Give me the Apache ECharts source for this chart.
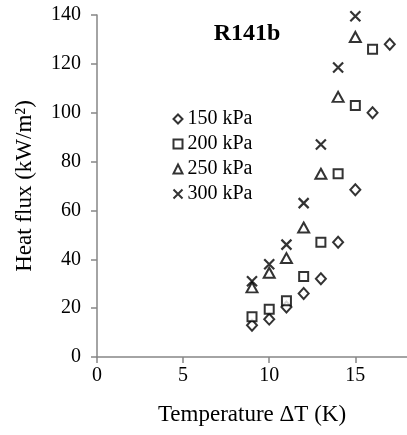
<!DOCTYPE html>
<html>
<head>
<meta charset="utf-8">
<script src="https://cdn.jsdelivr.net/npm/echarts@6/dist/echarts.min.js"></script>
<style>
  html, body { margin: 0; padding: 0; background: #fff; }
  #chart { width: 407px; height: 435px; }
</style>
</head>
<body>
<div id="chart"></div>
<script>
// 温度差 ΔT (K)
const dT150 = [9, 10, 11, 12, 13, 14, 15, 16, 17];
const q150 = [13, 15.5, 20.5, 26, 32, 47, 68.5, 100, 128];
const dT200 = [9, 10, 11, 12, 13, 14, 15, 16];
const q200 = [16.5, 19.5, 23, 33, 47, 75, 103, 126];
const dT250 = [9, 10, 11, 12, 13, 14, 15];
const q250 = [28.5, 34.5, 40.5, 53, 75, 106.5, 131];
const dT300 = [9, 10, 11, 12, 13, 14, 15];
const q300 = [31, 38, 46, 63, 87, 118.5, 139.5];

const pair = (xs, ys) => xs.map((x, i) => [x, ys[i]]);
const font = 'Liberation Serif';
const axisColor = '#868686';
const cross = 'path://M0,0L10,10M10,0L0,10';

const hollow = {
  color: '#fff',
  borderColor: '#000',
  borderWidth: 2
};

const chart = echarts.init(document.getElementById('chart'));
chart.setOption({
  animation: false,
  title: {
    text: 'R141b',
    left: 242,
    top: 17,
    textAlign: 'center',
    textStyle: { fontFamily: font, fontSize: 24, fontWeight: 'bold', color: '#000' }
  },
  legend: {
    orient: 'vertical',
    left: 166,
    top: 104,
    itemGap: 5,
    itemWidth: 9,
    itemHeight: 9,
    textStyle: { fontFamily: font, fontSize: 20, color: '#000' },
    data: ['150 kPa', '200 kPa', '250 kPa', '300 kPa']
  },
  grid: { left: 97, right: -9, top: 15, bottom: 78 },
  xAxis: {
    type: 'value',
    min: 0,
    max: 18,
    interval: 5,
    name: 'Temperature ΔT (K)',
    nameLocation: 'middle',
    nameGap: 46,
    nameTextStyle: { fontFamily: font, fontSize: 23, color: '#000' },
    splitLine: { show: false },
    axisLine: { lineStyle: { color: axisColor, width: 1.5 } },
    axisTick: { show: true, length: 6, lineStyle: { color: axisColor, width: 1.5 } },
    axisLabel: { fontFamily: font, fontSize: 20, color: '#000', margin: 9, showMaxLabel: false }
  },
  yAxis: {
    type: 'value',
    min: 0,
    max: 140,
    interval: 20,
    name: 'Heat flux (kW/m²)',
    nameLocation: 'middle',
    nameGap: 61,
    nameTextStyle: { fontFamily: font, fontSize: 23, color: '#000' },
    splitLine: { show: false },
    axisLine: { show: true, lineStyle: { color: axisColor, width: 1.5 } },
    axisTick: { show: true, length: 6, lineStyle: { color: axisColor, width: 1.5 } },
    axisLabel: { fontFamily: font, fontSize: 20, color: '#000', margin: 16 }
  },
  series: [
    {
      name: '150 kPa', type: 'scatter', data: pair(dT150, q150),
      symbol: 'diamond', symbolSize: [10, 11], itemStyle: hollow
    },
    {
      name: '200 kPa', type: 'scatter', data: pair(dT200, q200),
      symbol: 'rect', symbolSize: 9, itemStyle: hollow
    },
    {
      name: '250 kPa', type: 'scatter', data: pair(dT250, q250),
      symbol: 'triangle', symbolSize: [11, 10], itemStyle: hollow
    },
    {
      name: '300 kPa', type: 'scatter', data: pair(dT300, q300),
      symbol: cross, symbolSize: 10,
      itemStyle: { color: 'none', borderColor: '#000', borderWidth: 2.2 }
    }
  ]
});
</script>
</body>
</html>
